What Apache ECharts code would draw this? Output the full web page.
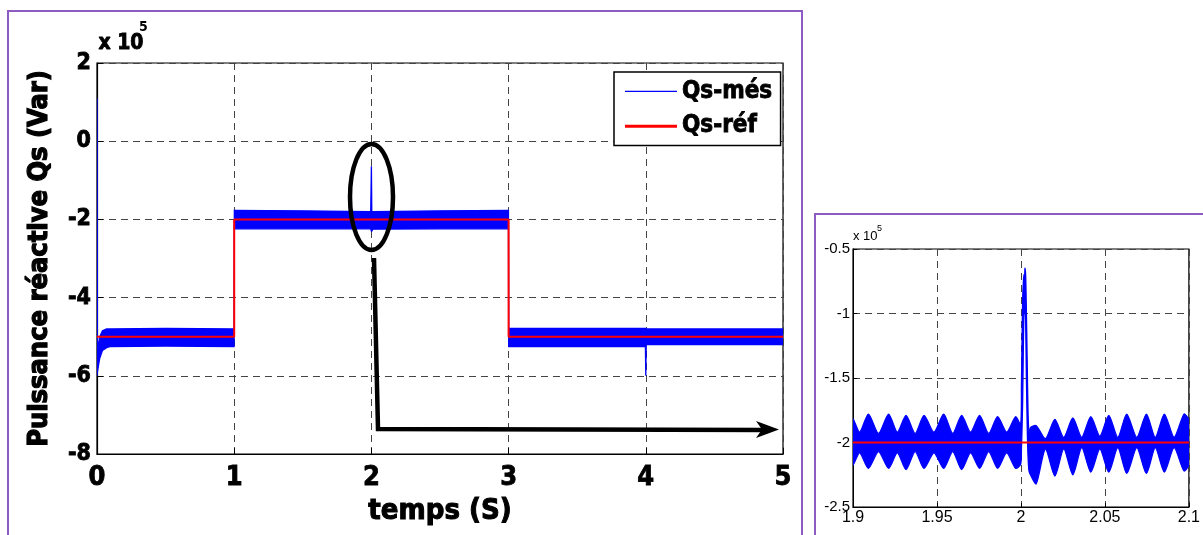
<!DOCTYPE html>
<html><head><meta charset="utf-8">
<script src="https://cdn.jsdelivr.net/npm/echarts@6/dist/echarts.min.js"></script>
<style>html,body{margin:0;padding:0;background:#fff}#c{width:1203px;height:535px}</style>
</head><body><div id="c"></div>
<script>
// ---- Main chart: reference (step) ----
const refT = [0, 1, 1, 3, 3, 5];
const refQ = [-5, -5, -2, -2, -5, -5];          // x 10^5 Var
// ---- Main chart: measured Qs band (upper / lower envelope, x 10^5 Var) ----
const mesT  = [0, 0.003, 0.01, 0.02, 0.04, 0.07, 0.1, 0.5, 0.999, 1.001, 1.5, 1.995, 2.0, 2.003, 2.01, 2.5, 2.999, 3.001, 3.5, 3.997, 4.0, 4.003, 4.5, 5.0];
const mesHi = [1.1, -5.5, -5.2, -5.0, -4.85, -4.8, -4.8, -4.79, -4.8, -1.77, -1.78, -1.8, -0.64, -1.85, -1.8, -1.78, -1.77, -4.78, -4.79, -4.79, -4.79, -4.8, -4.8, -4.8];
const mesLo = [-6.0, -5.9, -5.75, -5.55, -5.35, -5.28, -5.25, -5.24, -5.25, -2.24, -2.24, -2.24, -2.3, -2.3, -2.25, -2.24, -2.24, -5.25, -5.25, -5.25, -6.0, -5.2, -5.2, -5.2];
// ---- Zoom inset (1.9 s - 2.1 s) ----
const zoomT  = [1.900, 1.9040, 1.9092, 1.9152, 1.9212, 1.9264, 1.9316, 1.9370, 1.9423, 1.9482, 1.9540, 1.9594, 1.9647, 1.9700, 1.9754, 1.9808, 1.9861, 1.9915, 1.9968, 1.9998,
                2.0003, 2.0010, 2.0015, 2.0019, 2.0021, 2.0024, 2.0028, 2.0032, 2.0037, 2.0042, 2.0048, 2.0060,
                2.0091, 2.0146, 2.0202, 2.0255, 2.0309, 2.0362, 2.0416, 2.0470, 2.0523, 2.0577, 2.0630, 2.0690, 2.0747, 2.0800, 2.0854, 2.0912, 2.0971, 2.1000];
const zoomHi = [-1.82, -1.92, -1.78, -1.93, -1.78, -1.92, -1.79, -1.93, -1.79, -1.92, -1.78, -1.93, -1.79, -1.92, -1.79, -1.93, -1.80, -1.92, -1.80, -1.86,
                -1.55, -0.90, -0.74, -0.70, -0.82, -0.65, -0.70, -0.95, -1.35, -1.75, -1.92, -1.88,
                -1.87, -1.97, -1.82, -1.96, -1.81, -1.96, -1.80, -1.95, -1.79, -1.96, -1.78, -1.96, -1.78, -1.96, -1.78, -1.96, -1.78, -1.83];
const zoomLo = [-2.17, -2.08, -2.20, -2.07, -2.20, -2.08, -2.21, -2.07, -2.20, -2.08, -2.20, -2.07, -2.21, -2.08, -2.20, -2.07, -2.20, -2.08, -2.20, -2.17,
                -2.05, -1.70, -1.20, -0.95, -1.00, -0.90, -1.05, -1.45, -1.85, -2.10, -2.22, -2.26,
                -2.32, -2.05, -2.26, -2.05, -2.25, -2.04, -2.23, -2.05, -2.23, -2.04, -2.24, -2.04, -2.24, -2.04, -2.23, -2.04, -2.22, -2.17];
const zoomRefT = [1.9, 2.1];
const zoomRefQ = [-2, -2];

const F = "'Liberation Sans Narrow', 'DejaVu Sans Condensed', sans-serif";
const A = "'Liberation Sans', Arial, sans-serif";
const BLUE = '#0000ff', RED = '#ff0000', PURPLE = '#8c5cc2';

function bandSeries(name, xi, yi, T, Hi, Lo, smooth) {
  const data = T.map((t, i) => [t, Lo[i], Hi[i]]);
  return {
    type: 'custom', name, xAxisIndex: xi, yAxisIndex: yi, data, clip: true, z: 2,
    itemStyle: { color: BLUE },
    encode: { x: 0, y: [1, 2] },
    renderItem(params, api) {
      if (params.dataIndex !== 0) return null;
      const up = [], dn = [];
      for (const d of data) { up.push(api.coord([d[0], d[2]])); dn.push(api.coord([d[0], d[1]])); }
      const pts = up.concat(dn.reverse());
      return { type: 'polygon', shape: { points: pts, smooth: smooth }, style: { fill: BLUE, stroke: BLUE, lineWidth: 1.3 } };
    }
  };
}

const split = { show: true, lineStyle: { type: [7, 5], color: '#444', width: 1 } };
const chart = echarts.init(document.getElementById('c'), null, { renderer: 'canvas' });
chart.setOption({
  animation: false,
  backgroundColor: '#fff',
  grid: [
    { left: 97, top: 63, width: 686, height: 391, show: true, borderColor: '#000', borderWidth: 1.2, backgroundColor: 'transparent' },
    { left: 853, top: 249, width: 343, height: 258, show: true, borderColor: '#000', borderWidth: 1.2, backgroundColor: 'transparent' }
  ],
  xAxis: [
    { gridIndex: 0, type: 'value', min: 0, max: 5, interval: 1,
      name: 'temps (S)', nameLocation: 'middle', nameGap: 38,
      nameTextStyle: { fontFamily: F, fontWeight: 'bold', fontSize: 29, color: '#000', textBorderColor: '#000', textBorderWidth: 1 },
      axisLine: { onZero: false, lineStyle: { color: '#000', width: 1.2 } },
      axisTick: { inside: true, length: 6, lineStyle: { color: '#000' } },
      axisLabel: { fontFamily: F, fontWeight: 'bold', fontSize: 27, color: '#000', margin: 10, textBorderColor: '#000', textBorderWidth: 0.8 },
      splitLine: split },
    { gridIndex: 1, type: 'value', min: 1.9, max: 2.1, interval: 0.05,
      axisLine: { onZero: false, lineStyle: { color: '#000', width: 1 } },
      axisTick: { inside: true, length: 4, lineStyle: { color: '#000' } },
      axisLabel: { fontFamily: A, fontSize: 16, color: '#000', margin: 3,
        formatter: v => String(+v.toFixed(2)) },
      splitLine: split }
  ],
  yAxis: [
    { gridIndex: 0, type: 'value', min: -8, max: 2, interval: 2,
      name: 'Puissance réactive Qs (Var)', nameLocation: 'middle', nameGap: 44,
      nameTextStyle: { fontFamily: F, fontWeight: 'bold', fontSize: 27, color: '#000', textBorderColor: '#000', textBorderWidth: 1.2 },
      axisLine: { onZero: false, lineStyle: { color: '#000', width: 1.2 } },
      axisTick: { inside: true, length: 6, lineStyle: { color: '#000' } },
      axisLabel: { fontFamily: F, fontWeight: 'bold', fontSize: 23, color: '#000', margin: 6, textBorderColor: '#000', textBorderWidth: 0.8 },
      splitLine: split },
    { gridIndex: 1, type: 'value', min: -2.5, max: -0.5, interval: 0.5,
      axisLine: { onZero: false, lineStyle: { color: '#000', width: 1 } },
      axisTick: { inside: true, length: 4, lineStyle: { color: '#000' } },
      axisLabel: { fontFamily: A, fontSize: 15, color: '#000', margin: 3 },
      splitLine: split }
  ],
  legend: {
    left: 614, top: 72, orient: 'vertical', backgroundColor: '#fff', borderColor: '#000', borderWidth: 1.5,
    padding: [7, 8, 7, 11], itemGap: 10, itemWidth: 52, itemHeight: 27,
    textStyle: { fontFamily: F, fontWeight: 'bold', fontSize: 24, color: '#000', textBorderColor: '#000', textBorderWidth: 0.8 },
    data: [
      { name: 'Qs-més', icon: 'path://M0,0H52V1.2H0Z' },
      { name: 'Qs-réf', icon: 'path://M0,0H52V3H0Z' }
    ]
  },
  series: [
    bandSeries('Qs-més', 0, 0, mesT, mesHi, mesLo, 0),
    { type: 'line', name: 'Qs-réf', xAxisIndex: 0, yAxisIndex: 0, z: 3, symbol: 'none',
      data: refT.map((t, i) => [t, refQ[i]]), lineStyle: { color: RED, width: 2 }, itemStyle: { color: RED } },
    bandSeries('Qs-més (zoom)', 1, 1, zoomT, zoomHi, zoomLo, 0.25),
    { type: 'line', name: 'Qs-réf (zoom)', xAxisIndex: 1, yAxisIndex: 1, z: 3, symbol: 'none',
      data: zoomRefT.map((t, i) => [t, zoomRefQ[i]]), lineStyle: { color: RED, width: 2 }, itemStyle: { color: RED } }
  ],
  graphic: [
    // frames
    { type: 'rect', shape: { x: 8, y: 11, width: 794, height: 540 }, style: { fill: 'none', stroke: PURPLE, lineWidth: 2 }, z: 0 },
    { type: 'rect', shape: { x: 815, y: 214, width: 400, height: 340 }, style: { fill: 'none', stroke: PURPLE, lineWidth: 2 }, z: 0 },
    // multiplier labels
    { type: 'text', left: 98, top: 33, style: { text: 'x 10', fontFamily: F, fontWeight: 'bold', fontSize: 21, fill: '#000', stroke: '#000', lineWidth: 0.8 } },
    { type: 'text', left: 139, top: 20, style: { text: '5', fontFamily: F, fontWeight: 'bold', fontSize: 14, fill: '#000' } },
    { type: 'text', left: 853, top: 230, style: { text: 'x 10', fontFamily: A, fontSize: 13, fill: '#000' } },
    { type: 'text', left: 877, top: 224, style: { text: '5', fontFamily: A, fontSize: 9, fill: '#000' } },
    // annotation ellipse + arrow
    { type: 'ellipse', shape: { cx: 371.5, cy: 197, rx: 21.5, ry: 53 }, style: { fill: 'none', stroke: '#000', lineWidth: 4.5 }, z: 10 },
    { type: 'polyline', shape: { points: [[374, 258], [378, 429], [765, 430]] }, style: { fill: 'none', stroke: '#000', lineWidth: 4.5 }, z: 10 },
    { type: 'polygon', shape: { points: [[756, 421], [779, 429.5], [756, 438], [762, 429.5]] }, style: { fill: '#000' }, z: 10 }
  ]
});
</script></body></html>
